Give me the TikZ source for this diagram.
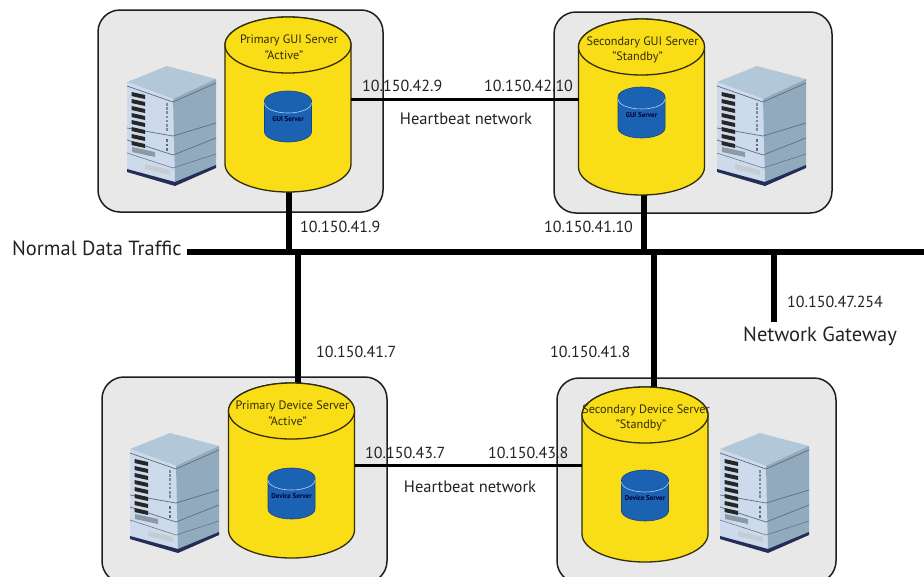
\documentclass[tikz,border=0pt]{standalone}
\usepackage{fontspec}
\setmainfont{PT Sans}
\definecolor{boxfill}{RGB}{232,232,232}
\definecolor{boxline}{RGB}{30,30,30}
\definecolor{cylfill}{RGB}{249,221,22}
\definecolor{cylline}{RGB}{50,45,10}
\definecolor{dbfill}{RGB}{28,98,178}
\definecolor{dbline}{RGB}{20,70,130}
\definecolor{txt}{RGB}{35,35,35}
\definecolor{srvtop}{RGB}{178,200,216}
\definecolor{srvfront}{RGB}{205,218,236}
\definecolor{srvside}{RGB}{146,170,190}
\definecolor{srvedge}{RGB}{90,110,125}
\definecolor{srvbase}{RGB}{35,45,85}
\tikzset{
  panel/.style={draw=boxline,line width=1.5pt,fill=boxfill,rounded corners=22pt},
  cyl/.style={draw=cylline,line width=1.3pt,fill=cylfill},
  db/.style={draw=dbline,line width=.6pt,fill=dbfill},
  net/.style={draw=black,line width=5.5pt},
  hb/.style={draw=black,line width=3pt},
  ip/.style={font=\fontsize{16}{18}\selectfont,text=txt,inner sep=0pt},
  big/.style={font=\fontsize{20.5}{22}\selectfont,text=txt,inner sep=0pt},
  hbt/.style={font=\fontsize{16.5}{18}\selectfont,text=txt,inner sep=0pt},
  cyltext/.style={font=\fontsize{12.2}{13}\selectfont,text=cylline,inner sep=0pt},
  dbtext/.style={font=\bfseries\fontsize{7}{8}\selectfont,text=black!80!blue,inner sep=0pt},
}
% name, centre x, top y, total height, title 1, title 2, db label, db top (relative)
\newcommand{\cylinderunit}[8]{%
  \begin{scope}[shift={(#2,#3)}]
    \path[cyl] (-63,28) -- (-63,#4-28) arc[x radius=63,y radius=28,start angle=180,end angle=0] -- (63,28) arc[x radius=63,y radius=28,start angle=0,end angle=-180] -- cycle;
    \path[cyl] (0,28) ellipse[x radius=63,y radius=28];
    \node[cyltext] at (1,23) {#5};
    \node[cyltext] at (-4,38.5) {#6};
    \begin{scope}[shift={(0,#8)}]
      \path[db] (-23.5,10) -- (-23.5,41) arc[x radius=23.5,y radius=10,start angle=180,end angle=0] -- (23.5,10) arc[x radius=23.5,y radius=10,start angle=0,end angle=-180] -- cycle;
      \draw[white!70!dbfill,line width=.6pt] (-23.5,12) arc[x radius=23.5,y radius=10,start angle=180,end angle=0];
      \node[dbtext] at (0,28) {#7};
    \end{scope}
    \coordinate (#1-l) at (-63,82);
    \coordinate (#1-r) at (63,82);
    \coordinate (#1-t) at (0,0);
    \coordinate (#1-b) at (0,#4);
  \end{scope}}
% server icon, origin at left-most x / top-most y
\newcommand{\servericon}[2]{%
  \begin{scope}[shift={(#1,#2)}]
    \fill[srvtop] (0,16) -- (40,0) -- (89,13) -- (46,33) -- cycle;
    \fill[srvfront] (0,16) -- (46,33) -- (48,117) -- (0,104) -- cycle;
    \fill[srvside] (46,33) -- (89,13) -- (89,100) -- (48,117) -- cycle;
    \draw[srvedge,line width=.7pt] (0,20) -- (46,36) -- (89,17);
    \draw[srvedge,line width=.7pt] (0,62) -- (46,70) -- (89,57);
    \draw[srvedge,line width=.7pt] (0,74) -- (46,89) -- (89,72);
    \draw[srvedge,line width=.5pt] (0,87) -- (46,102) -- (89,88);
    \fill[srvbase] (0,103) -- (48,116) -- (89,99) -- (89,102) -- (48,120) -- (0,106) -- cycle;
    \foreach \i in {0,...,7}{
      \fill[black!85] (4.5,{26+\i*7}) -- (18,{29+\i*7}) -- (18,{33+\i*7}) -- (4.5,{30+\i*7}) -- cycle;
    }
    \fill[srvedge!70] (5,81) -- (28,86) -- (28,91) -- (5,86) -- cycle;
    \fill[srvedge!35] (18,98) -- (43,104) -- (43,109) -- (18,103) -- cycle;
    \foreach \i in {0,...,6}{\fill[srvedge!80] (38.5,{37+\i*4.2}) rectangle (41,{39.5+\i*4.2});}
    \foreach \i in {0,1,2}{\fill[srvedge] (38.5,{73+\i*4.5}) rectangle (41,{75.5+\i*4.5});}
  \end{scope}}
\begin{document}
\begin{tikzpicture}[x=1pt,y=-1pt]
\useasboundingbox (0,0) rectangle (924,576);
\clip (0,0) rectangle (924,576);
\fill[white] (0,0) rectangle (924,576);
% panels
\path[panel] (98,10) rectangle (383,212);
\path[panel] (554,12) rectangle (832,213);
\path[panel] (102,377) rectangle (387,583);
\path[panel] (557,378) rectangle (836,583);
% servers
\servericon{127}{66}
\servericon{717}{66}
\servericon{130}{433}
\servericon{720}{433}
% network
\coordinate (busl) at (187,252);
\coordinate (busr) at (924,252);
\coordinate (gw) at (774,322);
\coordinate (adrop) at (289,190);
\coordinate (bdrop) at (644,190);
\coordinate (cdrop) at (298,386);
\coordinate (ddrop) at (654,389);
\path[net] (busl) -- (busr);
\path[net] (adrop) -- (adrop |- busl);
\path[net] (bdrop) -- (bdrop |- busl);
\path[net] (cdrop) -- (cdrop |- busl);
\path[net] (ddrop) -- (ddrop |- busl);
\path[net] (gw) -- (gw |- busl);
% cylinders
\cylinderunit{a}{288}{17}{175}{Primary GUI Server}{"Active"}{GUI Server}{74}
\cylinderunit{b}{641.5}{19}{176}{Secondary GUI Server}{"Standby"}{GUI Server}{68}
\cylinderunit{c}{291.5}{383}{175}{Primary Device Server}{"Active"}{Device Server}{85}
\cylinderunit{d}{645}{387}{175}{Secondary Device Server}{"Standby"}{Device Server}{83}
\path[hb] (a-r) -- (a-r -| b-l);
\path[hb] (c-r) -- (c-r -| d-l);
% labels
\node[big,anchor=west] (ndt) at (12,248) {Normal Data Traffic};
\node[big,anchor=west] (gwl) at (743,336) {Network Gateway};
\node[hbt] (hb1) at (466,119) {Heartbeat network};
\node[hbt] (hb2) at (470,487) {Heartbeat network};
\node[ip,anchor=west] (i1) at (362,86) {10.150.42.9};
\node[ip,anchor=west] (i2) at (484,86) {10.150.42.10};
\node[ip,anchor=west] (i3) at (300,227) {10.150.41.9};
\node[ip,anchor=west] (i4) at (544,227) {10.150.41.10};
\node[ip,anchor=west] (i5) at (787,302) {10.150.47.254};
\node[ip,anchor=west] (i6) at (316,352) {10.150.41.7};
\node[ip,anchor=west] (i7) at (550,352) {10.150.41.8};
\node[ip,anchor=west] (i8) at (365,453) {10.150.43.7};
\node[ip,anchor=west] (i9) at (488,453) {10.150.43.8};
\end{tikzpicture}
\end{document}
